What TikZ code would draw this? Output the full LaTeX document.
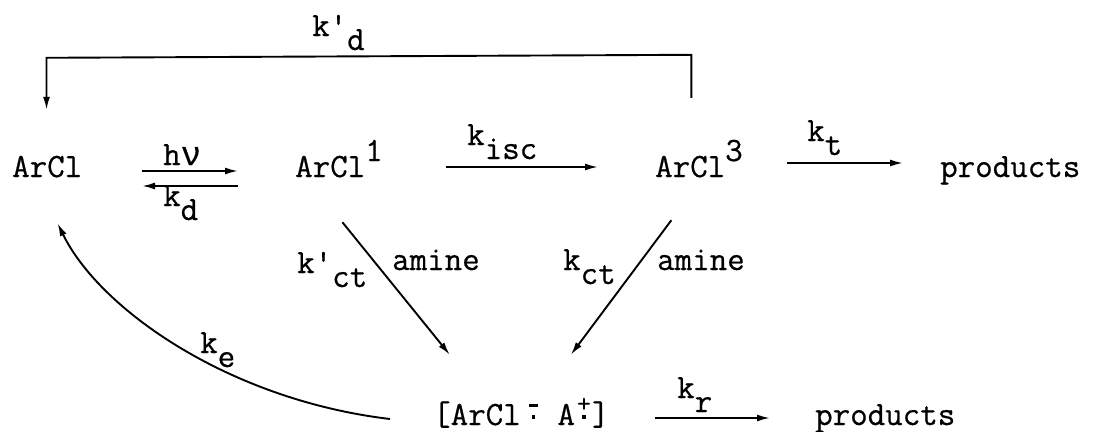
\documentclass[tikz,border=0pt]{standalone}
\usepackage{fontspec}
\usetikzlibrary{arrows.meta,calc}
\newfontfamily\tw{Latin Modern Mono}[FakeBold=0.6]
\newfontfamily\gk{Liberation Mono}[FakeBold=0.4]
% typewriter-style lowered / raised indices
\newcommand{\lo}[1]{\raisebox{-14pt}{#1}}
\newcommand{\hi}[1]{\raisebox{16pt}{#1}}
% radical-ion marks: charge sign stacked over a dot
\newcommand{\minusdot}{\makebox[0pt][c]{\raisebox{18pt}{\rule{8.5pt}{2.6pt}}}\makebox[0pt][c]{\raisebox{6pt}{\rule{3.8pt}{3.8pt}}}}
\newcommand{\plusdot}{\makebox[0pt][c]{\raisebox{13pt}{\fontsize{27}{27}\selectfont +}}\makebox[0pt][c]{\raisebox{6pt}{\rule{3.8pt}{3.8pt}}}}
\begin{document}
\begin{tikzpicture}[x=1pt,y=-1pt,
  every node/.style={font=\fontsize{34}{40}\selectfont\tw, inner sep=0pt},
  species/.style={anchor=base west, text height=20pt, text depth=0pt},
  lbl/.style={anchor=base west},
  arr/.style={line width=1.9pt, -{Latex[length=13pt,width=7pt]}}]
\useasboundingbox (0,0) rectangle (1094,431);

% species
\node[species] (a0) at (12,177) {ArCl};
\node[species] (a1) at (295,177) {ArCl\hi{1}};
\node[species] (a3) at (655,177) {ArCl\hi{3}};
\node[species] (p1) at (940,177) {products};
\node[species] (cx) at (433,425) {[ArCl\hspace{12.7pt}\minusdot\hspace{24pt}A\hspace{9pt}\plusdot\hspace{8pt}]};
\node[species] (p2) at (815,425) {products};

% rate labels
\node[lbl] (lhv)  at (163,165) {h{\gk ν}};
\node[lbl] (lkd)  at (163,206) {k\lo{d}};
\node[lbl] (lkisc) at (467,145) {k\lo{isc}};
\node[lbl] (lkt)  at (807,141) {k\lo{t}};
\node[lbl] (lkpd) at (312,36) {k'\lo{d}};
\node[lbl] (lkpct) at (297,273) {k'\lo{ct}};
\node[lbl] (lam1) at (392,270) {amine};
\node[lbl] (lkct) at (563,270) {k\lo{ct}};
\node[lbl] (lam2) at (657,270) {amine};
\node[lbl] (lke)  at (200,353) {k\lo{e}};
\node[lbl] (lkr)  at (677,398) {k\lo{r}};

% excitation and decay of the singlet
\draw[arr, shorten <=59.6pt, shorten >=57pt] ([yshift=-4pt]a0.east) -- ([yshift=-4pt]a1.west);
\draw[arr, shorten <=57pt, shorten >=59.6pt] ([yshift=-19pt]a1.west) -- ([yshift=-19pt]a0.east);
% intersystem crossing and triplet reaction
\draw[arr, shorten <=63pt, shorten >=57pt] (a1.east) -- (a3.west);
\draw[arr, shorten <=44pt, shorten >=37pt] ([yshift=4pt]a3.east) -- ([yshift=4pt]p1.west);
% triplet decay back to ground state
\draw[arr, line join=miter] ($(a3.north)+(-7.6,-59)$) -- ($(a3.north)+(-7.6,-102)$)
  -- ($(a0.north)+(-0.7,-99)$) -- ($(a0.north)+(-0.7,-47)$);
% charge-transfer quenching by amine
\draw[arr] ($(a1.south)+(3.4,45)$) -- ($(cx.north)+(-71.5,-50)$);
\draw[arr] ($(a3.south)+(-27.6,43)$) -- ($(cx.north)+(49.5,-50)$);
% exciplex reaction and return electron transfer
\draw[arr, shorten <=45pt, shorten >=45pt] ([yshift=-3pt]cx.east) -- ([yshift=-3pt]p2.west);
\draw[arr] ($(cx.west)+(-43,4)$) .. controls (230,400) and (100,310) .. ($(a0.south)+(10.3,46)$);
\end{tikzpicture}
\end{document}
